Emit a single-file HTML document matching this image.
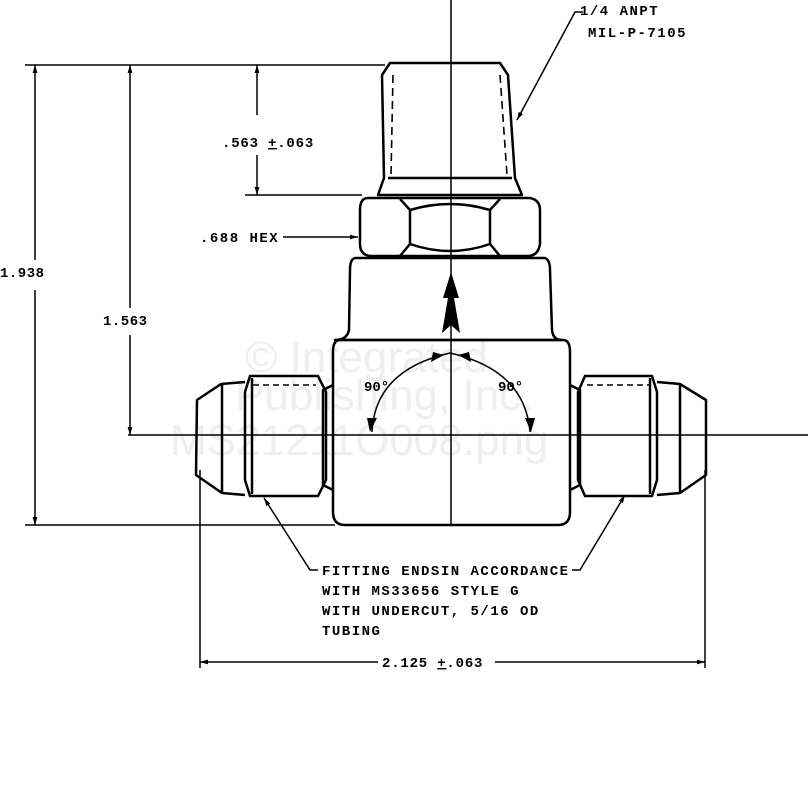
<!DOCTYPE html>
<html><head><style>
html,body{margin:0;padding:0;background:#fff;}
svg{display:block;}
text{font-family:"Liberation Mono",monospace;font-size:14px;font-weight:bold;letter-spacing:1.5px;fill:#000;}
.wm{font-family:"Liberation Sans",sans-serif;font-size:44px;font-weight:normal;letter-spacing:0;fill:#efefef;}
</style></head><body>
<svg width="808" height="805" viewBox="0 0 808 805" xmlns="http://www.w3.org/2000/svg">
<defs>
<marker id="a" viewBox="0 0 10 10" refX="10" refY="5" markerWidth="12" markerHeight="8" orient="auto-start-reverse" markerUnits="userSpaceOnUse"><path d="M0,2 L10,5 L0,8z" fill="#000"/></marker>
</defs>
<text class="wm" x="245" y="372">© Integrated</text>
<text class="wm" x="235" y="410">Publishing, Inc.</text>
<text class="wm" x="170" y="455">MS21211O008.png</text>
<g stroke="#000" fill="none" stroke-width="1.5">
<line x1="451" y1="0" x2="451" y2="525"/>
<line x1="128" y1="435" x2="808" y2="435"/>
<line x1="25" y1="65" x2="385" y2="65"/>
<line x1="25" y1="525" x2="335" y2="525"/>
<line x1="245" y1="195" x2="362" y2="195"/>
<line x1="35" y1="65" x2="35" y2="260" marker-start="url(#a)"/>
<line x1="35" y1="290" x2="35" y2="525" marker-end="url(#a)"/>
<line x1="130" y1="65" x2="130" y2="308" marker-start="url(#a)"/>
<line x1="130" y1="335" x2="130" y2="435" marker-end="url(#a)"/>
<line x1="257" y1="65" x2="257" y2="115" marker-start="url(#a)"/>
<line x1="257" y1="155" x2="257" y2="195" marker-end="url(#a)"/>
<line x1="200" y1="470" x2="200" y2="668"/>
<line x1="705" y1="470" x2="705" y2="668"/>
<line x1="200" y1="662" x2="378" y2="662" marker-start="url(#a)"/>
<line x1="495" y1="662" x2="705" y2="662" marker-end="url(#a)"/>
<line x1="283" y1="237" x2="358" y2="237" marker-end="url(#a)"/>
<path d="M583,12 L575,12 L517,120" marker-end="url(#a)"/>
<path d="M318,570 L310,570 L264,498" marker-end="url(#a)"/>
<path d="M572,570 L580,570 L625,495" marker-end="url(#a)"/>
</g>
<g stroke="#000" fill="none" stroke-width="2.5" stroke-linejoin="round">
<path d="M390,63 L500,63 L508,75 L515,178 L522,195 L378,195 L384,178 L382,75 Z"/>
<path d="M388,178 L512,178"/>
<path d="M393,75 L391,175 M500,75 L507,175" stroke-dasharray="8,5" stroke-width="1.6"/>
<path d="M368,198 L530,198 Q540,200 540,210 L540,244 Q538,256 528,256 L372,256 Q360,256 360,244 L360,210 Q360,198 368,198 Z"/>
<path d="M400,199 L410,210 L410,244 L400,256 M500,199 L490,210 L490,244 L500,256 M410,210 Q450,198 490,210 M410,244 Q450,258 490,244"/>
<path d="M356,258 L545,258 Q550,260 550,270 L552,330 Q553,340 562,340 L335,340 Q347,340 349,330 L350,270 Q350,258 356,258 Z"/>
<path d="M340,340 L563,340 Q570,340 570,352 L570,512 Q570,525 558,525 L345,525 Q333,525 333,512 L333,352 Q333,340 340,340 Z"/>
<path d="M333,385 L323,390 L323,485 L333,490"/>
<path d="M250,376 L318,376 L326,392 L326,480 L318,496 L250,496 L245,480 L245,392 Z"/>
<path d="M245,382 L221,384 L197,400 L196,475 L222,493 L245,495"/>
<path d="M222,385 L222,492 M252,378 L252,494"/>
<path d="M570,385 L580,390 L580,485 L570,490"/>
<path d="M585,376 L652,376 L657,392 L657,480 L652,496 L585,496 L578,480 L578,392 Z"/>
<path d="M657,382 L680,384 L706,400 L706,475 L680,493 L657,495"/>
<path d="M680,385 L680,492 M650,378 L650,494"/>
</g>
<g stroke="#000" fill="none" stroke-width="1.5">
<path d="M253,385 L316,385 M587,385 L650,385" stroke-dasharray="6,4"/>
<path d="M372,432 Q375,370 450,353 Q525,370 530,432"/>
</g>
<path d="M444,355 L431,362 L433,352 Z M458,355 L471,362 L469,352 Z M370,432 L367,418 L377,418 Z M531,432 L525,418 L535,418 Z" fill="#000"/>
<path d="M451,272 L443,298 L448,298 L442,333 L451,325 L460,333 L454,298 L459,298 Z" fill="#000"/>
<text x="364" y="391" style="letter-spacing:0">90°</text>
<text x="498" y="391" style="letter-spacing:0">90°</text>
<text x="580" y="15">1/4 ANPT</text>
<text x="588" y="37">MIL-P-7105</text>
<text x="222" y="147" style="letter-spacing:0.8px">.563 <tspan text-decoration="underline">+</tspan>.063</text>
<text x="200" y="242">.688 HEX</text>
<text x="0" y="277" style="letter-spacing:0.5px">1.938</text>
<text x="103" y="325" style="letter-spacing:0.5px">1.563</text>
<text x="322" y="575">FITTING ENDSIN ACCORDANCE</text>
<text x="322" y="595">WITH MS33656 STYLE G</text>
<text x="322" y="615">WITH UNDERCUT, 5/16 OD</text>
<text x="322" y="635">TUBING</text>
<text x="382" y="667" style="letter-spacing:0.8px">2.125 <tspan text-decoration="underline">+</tspan>.063</text>
</svg>
</body></html>
